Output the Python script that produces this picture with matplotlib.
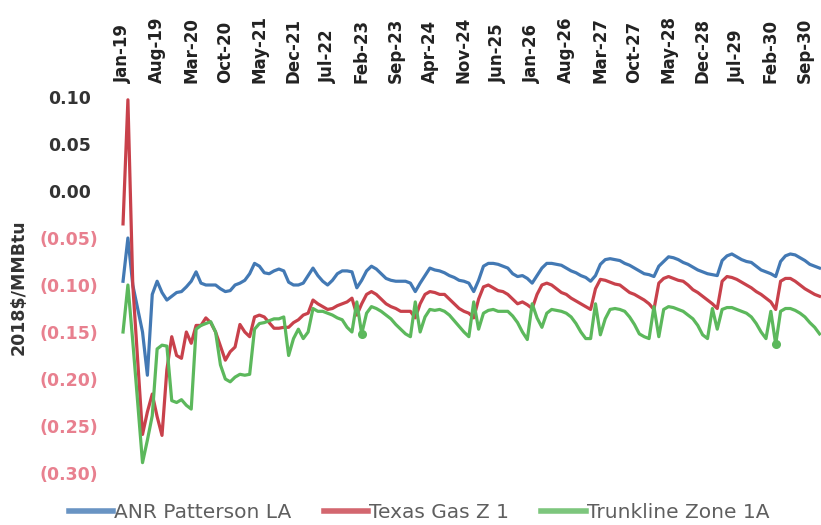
import matplotlib
matplotlib.use('Agg')
import matplotlib.pyplot as plt
import numpy as np
import pandas as pd

# ---------------- data ----------------
months = pd.date_range('2019-01-01', periods=144, freq='MS')
series_names = ['ANR Patterson LA', 'Texas Gas Z 1', 'Trunkline Zone 1A']

anr_patterson = [
    -0.096, -0.050, -0.100, -0.125, -0.150, -0.196, -0.110, -0.096, -0.108, -0.116, -0.112, -0.108,
    -0.107, -0.102, -0.096, -0.086, -0.098, -0.100, -0.100, -0.100, -0.104, -0.107, -0.106, -0.100,
    -0.098, -0.095, -0.088, -0.077, -0.080, -0.087, -0.088, -0.085, -0.083, -0.085, -0.097, -0.100,
    -0.100, -0.098, -0.090, -0.082, -0.090, -0.096, -0.100, -0.095, -0.088, -0.085, -0.085, -0.086,
    -0.103, -0.095, -0.085, -0.080, -0.083, -0.088, -0.093, -0.095, -0.096, -0.096, -0.096, -0.098,
    -0.107, -0.098, -0.090, -0.082, -0.084, -0.085, -0.087, -0.090, -0.092, -0.095, -0.096, -0.098,
    -0.107, -0.095, -0.080, -0.077, -0.077, -0.078, -0.080, -0.082, -0.088, -0.091, -0.090, -0.093,
    -0.098, -0.090, -0.082, -0.077, -0.077, -0.078, -0.079, -0.082, -0.085, -0.087, -0.090, -0.092,
    -0.096, -0.090, -0.078, -0.073, -0.072, -0.073, -0.074, -0.077, -0.079, -0.082, -0.085, -0.088,
    -0.089, -0.091, -0.080, -0.075, -0.070, -0.071, -0.073, -0.076, -0.078, -0.081, -0.084, -0.086,
    -0.088, -0.089, -0.090, -0.074, -0.069, -0.067, -0.070, -0.073, -0.075, -0.076, -0.080, -0.084,
    -0.086, -0.088, -0.091, -0.075, -0.069, -0.067, -0.068, -0.071, -0.074, -0.078, -0.080, -0.082,
]

texas_gas_z1 = [
    -0.035, 0.097, -0.100, -0.180, -0.259, -0.235, -0.216, -0.240, -0.260, -0.190, -0.155, -0.175,
    -0.178, -0.150, -0.162, -0.143, -0.143, -0.135, -0.140, -0.150, -0.165, -0.180, -0.171, -0.166,
    -0.142, -0.150, -0.155, -0.134, -0.132, -0.134, -0.140, -0.146, -0.146, -0.145, -0.145, -0.140,
    -0.137, -0.132, -0.130, -0.116, -0.120, -0.123, -0.126, -0.125, -0.122, -0.120, -0.118, -0.114,
    -0.132, -0.120, -0.110, -0.107, -0.110, -0.115, -0.120, -0.123, -0.125, -0.128, -0.128, -0.128,
    -0.135, -0.120, -0.110, -0.107, -0.108, -0.110, -0.110, -0.115, -0.120, -0.125, -0.128, -0.130,
    -0.135, -0.115, -0.102, -0.100, -0.103, -0.106, -0.107, -0.110, -0.115, -0.120, -0.118, -0.121,
    -0.125, -0.110, -0.100, -0.098, -0.100, -0.104, -0.108, -0.110, -0.114, -0.117, -0.120, -0.123,
    -0.126, -0.104, -0.094, -0.095, -0.097, -0.099, -0.100, -0.104, -0.108, -0.110, -0.113, -0.116,
    -0.120, -0.126, -0.098, -0.093, -0.091, -0.093, -0.095, -0.096, -0.100, -0.105, -0.108, -0.112,
    -0.116, -0.120, -0.125, -0.096, -0.091, -0.092, -0.094, -0.097, -0.100, -0.103, -0.107, -0.110,
    -0.114, -0.118, -0.126, -0.096, -0.093, -0.093, -0.096, -0.100, -0.104, -0.107, -0.110, -0.112,
]

trunkline_zone_1a = [
    -0.150, -0.100, -0.160, -0.225, -0.289, -0.265, -0.239, -0.168, -0.164, -0.165, -0.223, -0.225,
    -0.222, -0.228, -0.232, -0.147, -0.143, -0.141, -0.139, -0.150, -0.185, -0.200, -0.203, -0.198,
    -0.195, -0.196, -0.195, -0.147, -0.141, -0.140, -0.138, -0.136, -0.136, -0.134, -0.175, -0.157,
    -0.147, -0.157, -0.150, -0.125, -0.128, -0.128, -0.130, -0.132, -0.135, -0.137, -0.145, -0.150,
    -0.118, -0.152, -0.130, -0.123, -0.125, -0.128, -0.132, -0.136, -0.142, -0.147, -0.152, -0.155,
    -0.118, -0.150, -0.134, -0.126, -0.127, -0.126, -0.128, -0.132, -0.138, -0.144, -0.150, -0.155,
    -0.118, -0.147, -0.130, -0.127, -0.126, -0.128, -0.128, -0.128, -0.133, -0.140, -0.150, -0.158,
    -0.120, -0.135, -0.145, -0.130, -0.126, -0.127, -0.128, -0.130, -0.134, -0.141, -0.150, -0.157,
    -0.157, -0.120, -0.153, -0.136, -0.126, -0.125, -0.126, -0.128, -0.134, -0.142, -0.152, -0.155,
    -0.157, -0.123, -0.155, -0.126, -0.123, -0.124, -0.126, -0.128, -0.132, -0.136, -0.143, -0.153,
    -0.157, -0.125, -0.147, -0.126, -0.124, -0.124, -0.126, -0.128, -0.130, -0.134, -0.141, -0.150,
    -0.157, -0.128, -0.163, -0.128, -0.125, -0.125, -0.127, -0.130, -0.134, -0.140, -0.145, -0.152,
]

y_ticks = [0.10, 0.05, 0.00, -0.05, -0.10, -0.15, -0.20, -0.25, -0.30]
tick_every = 7

# ---------------- styling ----------------
colors = ['#4379b4', '#c8414b', '#5cb85c']
neg_color = '#e8808f'

W, H = 821, 525
fig = plt.figure(figsize=(W / 100, H / 100), dpi=100)
ax_left, ax_right = 120.6, 821
ax_top, ax_bot = 87.6, 482.4
ax = fig.add_axes([ax_left / W, 1 - ax_bot / H, (ax_right - ax_left) / W, (ax_bot - ax_top) / H])

x = np.arange(len(months))
for vals, name, c in zip([anr_patterson, texas_gas_z1, trunkline_zone_1a], series_names, colors):
    ax.plot(x, vals, color=c, lw=2.3, label=name, solid_joinstyle='round')

# small blobs visible on the green line in the reference
ax.plot(x, trunkline_zone_1a, lw=0, marker='o', markersize=5.5, color=colors[2],
        markevery=[49, 134])

ax.set_xlim(-0.5, 143.3)
ax.set_ylim(-0.31, 0.11)

for s in ax.spines.values():
    s.set_visible(False)

tick_pos = x[::tick_every]
tick_lab = [d.strftime('%b-%y') for d in months[::tick_every]]
ax.xaxis.tick_top()
ax.set_xticks(tick_pos)
ax.set_xticklabels(tick_lab, rotation=90, fontsize=12, fontweight='bold', color='#222222')
ax.tick_params(axis='x', length=0, pad=3)

ax.set_yticks(y_ticks)
ylabels = [f'{v:.2f}' if v >= 0 else f'({-v:.2f})' for v in y_ticks]
ax.set_yticklabels(ylabels, fontsize=12.5, fontweight='bold')
ax.tick_params(axis='y', length=0, pad=37)
for t, v in zip(ax.get_yticklabels(), y_ticks):
    t.set_ha('center')
    t.set_color('#333333' if v >= 0 else neg_color)

fig.text(19 / W, 1 - 287 / H, r'2018\$/MMBtu', rotation=90, ha='center', va='center',
         fontsize=12.5, fontweight='bold', color='#333333')

leg = fig.legend(loc='center', bbox_to_anchor=(419 / W, 1 - 513 / H), ncol=3, frameon=False,
                 fontsize=14.5, handlelength=2.2, handletextpad=0.05, columnspacing=1.6,
                 borderpad=0.0)
for t in leg.get_texts():
    t.set_color('#5f5f5f')
for l in leg.get_lines():
    l.set_linewidth(4)
    l.set_alpha(0.8)

fig.savefig('out.png', dpi=100, facecolor='white')
